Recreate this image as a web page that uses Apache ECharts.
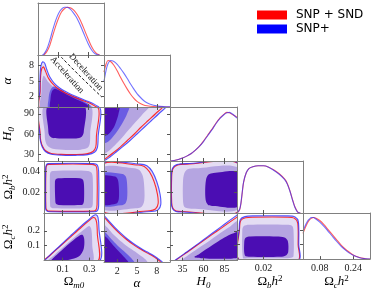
<!DOCTYPE html>
<html><head><meta charset="utf-8">
<script src="https://cdn.jsdelivr.net/npm/echarts@6/dist/echarts.min.js"></script>
<style>html,body{margin:0;padding:0;background:#fff}#c{width:374px;height:291px}</style>
</head><body><div id="c"></div>
<script>
// ---------------- DATA ----------------
const seriesNames = ['SNP + SND', 'SNP+'];
const rangeOm = [-0.04, 0.41], rangeAlpha = [0, 10], rangeH0 = [20, 100], rangeOb = [0, 0.05], rangeOc = [0, 0.32];
const tickOm = [0.1, 0.3], tickAlpha = [2, 5, 8], tickH0x = [35, 60, 85], tickH0y = [30, 60, 90];
const tickObx = [0.02], tickOby = [0.02, 0.04], tickOcx = [0.08, 0.24], tickOcy = [0.1, 0.2];
const diagMax = [1.09, 1.12, 1.11, 1.1, 1.11];

// 1D marginal posteriors (red = SNP + SND, blue = SNP+)
const pdfOmRed = [[0.0,0],[0.02,0.07],[0.04,0.2],[0.06,0.4],[0.08,0.6],[0.1,0.77],[0.12,0.9],[0.14,0.97],[0.16,1.0],[0.18,0.99],[0.2,0.95],[0.22,0.88],[0.24,0.78],[0.26,0.65],[0.28,0.5],[0.3,0.35],[0.32,0.21],[0.34,0.1],[0.36,0.03],[0.38,0]];
const pdfOmBlue = [[-0.01,0],[0.0,0.02],[0.02,0.12],[0.04,0.3],[0.06,0.52],[0.08,0.72],[0.1,0.87],[0.12,0.96],[0.14,1.0],[0.16,1.0],[0.18,0.96],[0.2,0.89],[0.22,0.8],[0.24,0.68],[0.26,0.54],[0.28,0.39],[0.3,0.25],[0.32,0.13],[0.34,0.05],[0.36,0.01],[0.38,0]];
const pdfAlphaRed = [[0,0.75],[0.3,0.92],[0.6,1.0],[1.0,0.98],[1.5,0.9],[2,0.78],[2.5,0.64],[3,0.51],[3.5,0.39],[4,0.28],[4.5,0.19],[5,0.12],[5.5,0.075],[6,0.045],[6.5,0.027],[7,0.016],[8,0.006],[9,0.002],[10,0]];
const pdfAlphaBlue = [[0,0.55],[0.3,0.78],[0.6,0.93],[1.0,1.0],[1.5,0.98],[2,0.92],[2.5,0.83],[3,0.73],[3.5,0.62],[4,0.5],[4.5,0.39],[5,0.29],[5.5,0.21],[6,0.14],[6.5,0.09],[7,0.06],[8,0.025],[9,0.008],[10,0.002]];
const pdfH0Red = [[20,0],[25,0.01],[30,0.03],[35,0.06],[40,0.1],[45,0.15],[50,0.22],[55,0.3],[60,0.41],[65,0.53],[70,0.65],[75,0.78],[80,0.89],[85,0.97],[88,1.0],[91,0.99],[95,0.95],[100,0.9]];
const pdfH0Blue = [[20,0],[25,0.01],[30,0.03],[35,0.06],[40,0.1],[45,0.15],[50,0.22],[55,0.3],[60,0.4],[65,0.52],[70,0.64],[75,0.77],[80,0.88],[85,0.96],[88,0.99],[91,1.0],[95,0.96],[100,0.88]];
const pdfObRed = [[0,0],[0.002,0.07],[0.003,0.2],[0.004,0.43],[0.005,0.65],[0.007,0.85],[0.009,0.94],[0.012,0.98],[0.016,1.0],[0.02,1.0],[0.024,0.97],[0.028,0.91],[0.032,0.83],[0.036,0.72],[0.038,0.63],[0.04,0.48],[0.042,0.29],[0.044,0.12],[0.046,0.02],[0.048,0]];
const pdfObBlue = [[0,0],[0.002,0.08],[0.003,0.22],[0.004,0.45],[0.005,0.66],[0.007,0.85],[0.009,0.94],[0.012,0.98],[0.016,1.0],[0.02,1.0],[0.024,0.97],[0.028,0.9],[0.032,0.82],[0.036,0.71],[0.038,0.62],[0.04,0.47],[0.042,0.28],[0.044,0.11],[0.046,0.02],[0.048,0]];
const pdfOcRed = [[0,0.62],[0.01,0.75],[0.02,0.86],[0.03,0.94],[0.04,0.98],[0.05,1.0],[0.06,0.99],[0.08,0.93],[0.1,0.83],[0.12,0.71],[0.14,0.59],[0.16,0.47],[0.18,0.35],[0.2,0.25],[0.22,0.17],[0.24,0.1],[0.26,0.055],[0.28,0.025],[0.3,0.008],[0.32,0]];
const pdfOcBlue = [[0,0.68],[0.01,0.8],[0.02,0.9],[0.03,0.96],[0.04,1.0],[0.05,1.0],[0.06,0.97],[0.08,0.89],[0.1,0.79],[0.12,0.67],[0.14,0.55],[0.16,0.43],[0.18,0.32],[0.2,0.23],[0.22,0.15],[0.24,0.09],[0.26,0.05],[0.28,0.02],[0.3,0.005],[0.32,0]];

// 2D credible regions (x param, y param): outline blue / red, filled levels
const c10Blue = [[-0.028,-0.3],[-0.028,3],[-0.026,6],[-0.02,7.9],[-0.008,8.7],[0.006,8.4],[0.02,7.2],[0.04,5.8],[0.07,4.6],[0.11,3.6],[0.16,2.8],[0.22,2.0],[0.28,1.3],[0.34,0.6],[0.38,-0.3]];
const c10Red = [[-0.025,-0.3],[-0.025,3],[-0.022,6],[-0.014,7.4],[-0.002,7.7],[0.012,6.8],[0.032,5.5],[0.062,4.4],[0.1,3.45],[0.15,2.65],[0.21,1.9],[0.27,1.2],[0.33,0.5],[0.365,-0.3]];
const c10Mid = [[-0.016,-0.3],[-0.016,3],[-0.012,5.0],[-0.002,6.0],[0.012,5.6],[0.03,4.8],[0.06,4.0],[0.1,3.2],[0.15,2.45],[0.21,1.7],[0.27,1.0],[0.32,0.35],[0.34,-0.3]];
const c10Inner = [[0.035,-0.3],[0.032,1.6],[0.042,3.1],[0.065,3.95],[0.1,3.55],[0.15,2.75],[0.2,2.05],[0.26,1.25],[0.31,0.45],[0.325,-0.3]];
const c10Core = [[0.048,-0.3],[0.045,1.5],[0.055,3.0],[0.075,3.5],[0.105,3.15],[0.155,2.4],[0.21,1.65],[0.27,0.85],[0.305,0.2],[0.31,-0.3]];
const qZeroLine = [[0.118,9.6],[0.255,5.7],[0.396,1.9]];
const labelDecel = [0.287, 6.7], labelAccel = [0.158, 6.15];

const c20Blue = [[-0.028,102],[-0.028,60],[-0.024,50],[-0.012,41],[0.01,34],[0.05,30],[0.12,28.6],[0.22,28.4],[0.3,29.5],[0.345,33],[0.365,40],[0.37,55],[0.37,102]];
const c20Red = [[-0.025,102],[-0.025,60],[-0.021,50],[-0.009,42],[0.012,35.2],[0.05,31.2],[0.12,29.8],[0.22,29.6],[0.29,30.6],[0.335,34],[0.354,41],[0.358,55],[0.358,102]];
const c20Mid = [[0.006,102],[0.006,60],[0.01,50],[0.025,42.5],[0.06,38],[0.15,36.3],[0.25,36.8],[0.298,39.5],[0.313,46],[0.316,60],[0.316,102]];
const c20Inner = [];
const c20Core = [[0.03,102],[0.03,66],[0.035,59],[0.055,54.5],[0.12,53.5],[0.22,53.5],[0.258,56],[0.272,63],[0.274,102]];

const c30Blue = [[-0.028,0.004],[-0.028,0.042],[-0.022,0.0465],[-0.005,0.0475],[0.33,0.0475],[0.36,0.046],[0.37,0.04],[0.37,0.007],[0.362,0.0025],[0.34,0.0012],[0.0,0.0012],[-0.02,0.002]];
const c30Red = [[-0.026,0.005],[-0.026,0.041],[-0.02,0.0458],[-0.003,0.0468],[0.32,0.0468],[0.35,0.0452],[0.358,0.04],[0.358,0.008],[0.35,0.003],[0.33,0.0018],[0.0,0.0018],[-0.018,0.0028]];
const c30Mid = [[0.006,0.007],[0.004,0.036],[0.01,0.0395],[0.03,0.0405],[0.29,0.0405],[0.318,0.0385],[0.326,0.033],[0.326,0.009],[0.318,0.0055],[0.29,0.0045],[0.03,0.0045],[0.01,0.0055]];
const c30Inner = [];
const c30Core = [[0.045,0.011],[0.042,0.03],[0.05,0.0328],[0.07,0.0335],[0.23,0.0335],[0.252,0.032],[0.26,0.027],[0.26,0.012],[0.252,0.0085],[0.23,0.0077],[0.07,0.0077],[0.05,0.0088]];

const c40Blue = [[-0.05,-0.005],[-0.035,0.002],[0.0,0.034],[0.08,0.1],[0.16,0.168],[0.24,0.234],[0.3,0.279],[0.33,0.302],[0.35,0.308],[0.365,0.29],[0.372,0.22],[0.372,-0.005]];
const c40Red = [[-0.045,-0.005],[0.0,0.031],[0.08,0.096],[0.16,0.16],[0.24,0.224],[0.3,0.27],[0.325,0.288],[0.343,0.286],[0.355,0.255],[0.36,0.18],[0.36,-0.005]];
const c40Mid = [[-0.01,-0.005],[0.04,0.04],[0.12,0.103],[0.2,0.165],[0.27,0.215],[0.3,0.232],[0.316,0.205],[0.322,0.1],[0.322,-0.005]];
const c40Inner = [];
const c40Core = [[0.012,-0.005],[0.06,0.042],[0.12,0.092],[0.18,0.137],[0.225,0.167],[0.25,0.172],[0.262,0.142],[0.258,0.08],[0.23,0.035],[0.17,0.01],[0.09,-0.005]];

const c21Blue = [[-0.3,102],[9.4,102],[8.3,90],[7.2,80],[6.1,70],[5.0,60],[3.9,50],[2.8,41],[1.8,33],[0.9,26],[0.3,22],[-0.3,20.5]];
const c21Red = [[-0.3,102],[8.9,102],[7.8,90],[6.7,80],[5.6,70],[4.6,60],[3.5,50],[2.5,41],[1.5,33],[0.7,27],[0.2,23.5],[-0.3,22.5]];
const c21Mid = [[-0.3,102],[6.9,102],[5.9,90],[5.0,80],[4.1,70],[3.2,60],[2.3,50],[1.4,41],[0.6,34],[-0.3,30]];
const c21Inner = [[-0.3,102],[3.8,102],[3.5,90],[3.0,80],[2.4,70],[1.7,60],[1.0,52],[0.4,47.5],[-0.3,46]];
const c21Core = [[-0.3,102],[2.3,102],[2.2,90],[1.9,80],[1.5,70],[0.9,62],[0.4,58],[-0.3,57]];

const c31Blue = [[-0.3,0.047],[5.5,0.047],[6.5,0.0455],[7.3,0.04],[8.0,0.03],[8.5,0.018],[8.6,0.008],[8.2,0.003],[7.2,0.0015],[-0.3,0.0015]];
const c31Red = [[-0.3,0.0462],[5.2,0.0462],[6.1,0.0448],[6.9,0.0395],[7.6,0.03],[8.1,0.018],[8.2,0.009],[7.8,0.0038],[6.9,0.0022],[-0.3,0.0022]];
const c31Mid = [[-0.3,0.043],[4.6,0.043],[5.4,0.041],[5.9,0.035],[6.1,0.025],[6.1,0.012],[5.7,0.006],[4.8,0.0045],[-0.3,0.0045]];
const c31Inner = [[-0.3,0.0375],[2.8,0.0375],[3.3,0.035],[3.5,0.028],[3.5,0.014],[3.2,0.009],[2.6,0.0075],[-0.3,0.0075]];
const c31Core = [[-0.3,0.035],[1.7,0.035],[2.1,0.032],[2.25,0.025],[2.25,0.014],[2.0,0.0095],[1.5,0.0085],[-0.3,0.0085]];

const c41Blue = [[-0.3,0.315],[0,0.305],[0.8,0.265],[1.6,0.228],[2.5,0.19],[3.5,0.152],[4.5,0.12],[5.5,0.092],[6.5,0.067],[7.5,0.043],[8.2,0.022],[8.7,0.006],[8.9,-0.005],[-0.3,-0.005]];
const c41Red = [[-0.3,0.305],[0,0.295],[0.8,0.255],[1.6,0.218],[2.5,0.181],[3.5,0.144],[4.5,0.112],[5.5,0.085],[6.5,0.06],[7.5,0.037],[8.1,0.018],[8.5,0.004],[8.6,-0.005],[-0.3,-0.005]];
const c41Mid = [[-0.3,0.255],[0.5,0.225],[1.2,0.19],[2,0.157],[3,0.12],[4,0.088],[5,0.06],[5.8,0.035],[6.4,0.012],[6.6,-0.005],[-0.3,-0.005]];
const c41Inner = [[-0.3,0.205],[0.5,0.18],[1.2,0.145],[2,0.11],[3,0.072],[3.8,0.04],[4.4,0.012],[4.6,-0.005],[-0.3,-0.005]];
const c41Core = [[-0.3,0.18],[0.4,0.16],[1.0,0.13],[1.7,0.095],[2.4,0.062],[3.0,0.035],[3.5,0.012],[3.7,-0.005],[-0.3,-0.005]];

const c32Blue = [[102,0.0475],[40,0.0475],[28,0.0465],[23,0.043],[21.5,0.035],[21.5,0.01],[23,0.004],[27,0.0015],[35,0.001],[102,0.001]];
const c32Red = [[102,0.047],[40,0.047],[28.5,0.046],[23.5,0.0425],[22,0.035],[22,0.01],[23.5,0.0045],[27.5,0.002],[35,0.0015],[102,0.0015]];
const c32Mid = [[102,0.043],[50,0.043],[41,0.042],[37,0.038],[35.5,0.03],[35.5,0.012],[37,0.006],[41,0.0045],[50,0.004],[102,0.004]];
const c32Inner = [];
const c32Core = [[102,0.0385],[72,0.0385],[66,0.037],[63,0.032],[62,0.02],[63,0.011],[66,0.0075],[72,0.0068],[102,0.0068]];

const c42Blue = [[25.5,-0.005],[30,0.018],[40,0.058],[50,0.099],[60,0.14],[70,0.182],[80,0.223],[90,0.265],[100,0.306],[102,0.314],[102,-0.005]];
const c42Red = [[26,-0.005],[30.5,0.017],[40.5,0.056],[50.5,0.096],[60.5,0.136],[70.5,0.176],[80.5,0.215],[90.5,0.255],[100,0.292],[102,0.3],[102,-0.005]];
const c42Mid = [[33,-0.005],[40,0.03],[50,0.068],[60,0.106],[70,0.145],[80,0.185],[90,0.222],[102,0.266],[102,-0.005]];
const c42Inner = [];
const c42Core = [[49,0.024],[55,0.045],[65,0.083],[75,0.12],[85,0.155],[95,0.182],[102,0.19],[102,0.025],[95,0.014],[85,0.012],[70,0.013],[57,0.016]];

const c43Blue = [[0.0017,-0.005],[0.0017,0.22],[0.0025,0.275],[0.006,0.295],[0.012,0.3],[0.038,0.3],[0.044,0.293],[0.0465,0.26],[0.0468,0.1],[0.0468,-0.005]];
const c43Red = [[0.002,-0.005],[0.002,0.22],[0.003,0.27],[0.0065,0.287],[0.012,0.291],[0.038,0.291],[0.0435,0.284],[0.046,0.25],[0.0463,0.1],[0.0463,-0.005]];
const c43Mid = [[0.0045,0.008],[0.004,0.2],[0.005,0.228],[0.009,0.238],[0.038,0.238],[0.0418,0.23],[0.0428,0.2],[0.0428,0.02],[0.041,0.01],[0.036,0.006],[0.008,0.006]];
const c43Inner = [];
const c43Core = [[0.006,0.025],[0.0055,0.12],[0.0065,0.148],[0.01,0.157],[0.03,0.157],[0.036,0.15],[0.0385,0.125],[0.0388,0.05],[0.037,0.025],[0.033,0.016],[0.01,0.016]];

// ---------------- LAYOUT / STYLE ----------------
const colX = [38, 104, 170, 237, 303, 370];
const rowY = [3, 55, 107, 161, 213, 266];
const ranges = [rangeOm, rangeAlpha, rangeH0, rangeOb, rangeOc];
const xTicks = [tickOm, tickAlpha, tickH0x, tickObx, tickOcx];
const yTicks = [tickOm, tickAlpha, tickH0y, tickOby, tickOcy];
const axisTitles = ['{o|Ω}{s|m0}', '{i|α}', '{i|H}{s|0}', '{o|Ω}{s|b}{i|h}{p|2}', '{o|Ω}{s|c}{i|h}{p|2}'];
const pdfs = [[pdfOmRed, pdfOmBlue], [pdfAlphaRed, pdfAlphaBlue], [pdfH0Red, pdfH0Blue], [pdfObRed, pdfObBlue], [pdfOcRed, pdfOcBlue]];
const contours = {
  '1,0': [c10Blue, c10Red, c10Mid, c10Inner, c10Core],
  '2,0': [c20Blue, c20Red, c20Mid, c20Inner, c20Core],
  '3,0': [c30Blue, c30Red, c30Mid, c30Inner, c30Core],
  '4,0': [c40Blue, c40Red, c40Mid, c40Inner, c40Core],
  '2,1': [c21Blue, c21Red, c21Mid, c21Inner, c21Core],
  '3,1': [c31Blue, c31Red, c31Mid, c31Inner, c31Core],
  '4,1': [c41Blue, c41Red, c41Mid, c41Inner, c41Core],
  '3,2': [c32Blue, c32Red, c32Mid, c32Inner, c32Core],
  '4,2': [c42Blue, c42Red, c42Mid, c42Inner, c42Core],
  '4,3': [c43Blue, c43Red, c43Mid, c43Inner, c43Core]
};
const SERIF = 'Liberation Serif';
const FILL = ['#e4ddf3', '#b5a5e1', '#6a5ce3', '#4b0db3'];
const RED = 'rgba(255,0,0,0.8)', BLUE = 'rgba(30,30,255,0.75)';
const BORDER = '#808080';
const rich = {
  o: {fontFamily: SERIF, fontSize: 13, color: '#000', lineHeight: 16},
  i: {fontFamily: SERIF, fontSize: 13, fontStyle: 'italic', color: '#000', lineHeight: 16},
  s: {fontFamily: SERIF, fontSize: 9, fontStyle: 'italic', color: '#000', lineHeight: 9, verticalAlign: 'bottom'},
  p: {fontFamily: SERIF, fontSize: 9, color: '#000', lineHeight: 9, verticalAlign: 'top'}
};

const grids = [], xAxes = [], yAxes = [], series = [];

function axisBase(extra) {
  return Object.assign({
    type: 'value', z: 6,
    axisLine: {show: true, onZero: false, lineStyle: {color: BORDER, width: 1}},
    splitLine: {show: false}
  }, extra);
}

function polySeries(ai, pts, fill, stroke, z) {
  return {
    type: 'custom', xAxisIndex: ai, yAxisIndex: ai, coordinateSystem: 'cartesian2d',
    data: [pts[0]], silent: true, z: z, clip: true,
    renderItem: function (params, api) {
      const cs = params.coordSys;
      const p = pts.map(function (d) { return api.coord(d); });
      return {
        type: 'polygon',
        shape: {points: p, smooth: 0.3},
        style: {fill: fill || 'none', stroke: stroke || 'none', lineWidth: 1.1},
        clipPath: {type: 'rect', shape: {x: cs.x, y: cs.y, width: cs.width, height: cs.height}}
      };
    }
  };
}

for (let r = 0; r < 5; r++) {
  for (let c = 0; c <= r; c++) {
    const g = grids.length;
    grids.push({left: colX[c], top: rowY[r], width: colX[c + 1] - colX[c], height: rowY[r + 1] - rowY[r]});
    const diag = r === c;
    const xt = xTicks[c];
    const bottomRow = r === 4;
    // bottom x axis
    xAxes.push(axisBase({
      gridIndex: g, position: 'bottom', min: ranges[c][0], max: ranges[c][1],
      axisTick: {show: true, inside: true, length: 3, customValues: xt, lineStyle: {color: '#555'}},
      axisLabel: {show: bottomRow, customValues: xt, margin: 4, fontFamily: SERIF, fontSize: 10, color: '#222'},
      name: bottomRow ? axisTitles[c] : '', nameLocation: 'middle', nameGap: 13,
      nameTextStyle: {rich: rich}
    }));
    // top x axis (ticks only)
    xAxes.push(axisBase({
      gridIndex: g, position: 'top', min: ranges[c][0], max: ranges[c][1],
      axisTick: {show: !diag, inside: true, length: 3, customValues: xt, lineStyle: {color: '#555'}},
      axisLabel: {show: false}
    }));
    const ymin = diag ? 0 : ranges[r][0];
    const ymax = diag ? diagMax[r] : ranges[r][1];
    const yt = diag ? [] : yTicks[r];
    const leftCol = c === 0 && !diag;
    yAxes.push(axisBase({
      gridIndex: g, position: 'left', min: ymin, max: ymax,
      axisTick: {show: !diag, inside: true, length: 3, customValues: yt, lineStyle: {color: '#555'}},
      axisLabel: {show: leftCol, customValues: yt, margin: 4, fontFamily: SERIF, fontSize: 10, color: '#222'},
      name: leftCol ? axisTitles[r] : '', nameLocation: 'middle', nameGap: r === 1 ? 22 : (r === 2 ? 22 : 27),
      nameTextStyle: {rich: rich}
    }));
    yAxes.push(axisBase({
      gridIndex: g, position: 'right', min: ymin, max: ymax,
      axisTick: {show: !diag, inside: true, length: 3, customValues: yt, lineStyle: {color: '#555'}},
      axisLabel: {show: false}
    }));
    const ai = 2 * g;
    if (diag) {
      series.push({type: 'line', name: seriesNames[0], xAxisIndex: ai, yAxisIndex: ai, data: pdfs[r][0], smooth: 0.3,
        showSymbol: false, silent: true, lineStyle: {color: 'rgba(255,40,40,0.75)', width: 1.1}, z: 3});
      series.push({type: 'line', name: seriesNames[1], xAxisIndex: ai, yAxisIndex: ai, data: pdfs[r][1], smooth: 0.3,
        showSymbol: false, silent: true, lineStyle: {color: 'rgba(40,40,255,0.65)', width: 1.1}, z: 4});
    } else {
      const L = contours[r + ',' + c];
      series.push(polySeries(ai, L[0], FILL[0], null, 1));
      series.push(polySeries(ai, L[2], FILL[1], null, 1));
      if (L[3].length) series.push(polySeries(ai, L[3], FILL[2], null, 1));
      series.push(polySeries(ai, L[4], FILL[3], null, 1));
      series.push(polySeries(ai, L[1], null, RED, 2));
      series.push(polySeries(ai, L[0], null, BLUE, 2));
      if (r === 1 && c === 0) {
        series.push({type: 'line', xAxisIndex: ai, yAxisIndex: ai, data: qZeroLine, smooth: 0.4, showSymbol: false, silent: true,
          lineStyle: {color: '#000', width: 0.9, type: [3, 2]}, z: 3});
        series.push({
          type: 'custom', xAxisIndex: ai, yAxisIndex: ai, coordinateSystem: 'cartesian2d', data: [labelDecel], silent: true, z: 4,
          renderItem: function (params, api) {
            const a = api.coord(labelDecel), b = api.coord(labelAccel);
            const rot = -0.84;
            const st = {fill: '#111', font: '9px "Liberation Serif"', align: 'center', verticalAlign: 'middle'};
            return {type: 'group', children: [
              {type: 'text', x: a[0], y: a[1], rotation: rot, style: Object.assign({text: 'Deceleration'}, st)},
              {type: 'text', x: b[0], y: b[1], rotation: rot, style: Object.assign({text: 'Acceleration'}, st)}
            ]};
          }
        });
      }
    }
  }
}

const chart = echarts.init(document.getElementById('c'), null, {renderer: 'canvas'});
chart.setOption({
  animation: false,
  backgroundColor: '#fff',
  grid: grids, xAxis: xAxes, yAxis: yAxes, series: series,
  legend: {
    orient: 'vertical', left: 252, top: 4, itemWidth: 30, itemHeight: 9, itemGap: 2, selectedMode: false,
    data: [
      {name: seriesNames[0], icon: 'rect', itemStyle: {color: '#ff0000'}},
      {name: seriesNames[1], icon: 'rect', itemStyle: {color: '#0000ff'}}
    ],
    textStyle: {fontFamily: 'DejaVu Sans', fontSize: 12, color: '#000', padding: [0, 0, 0, 4]}
  }
});
</script>
</body></html>
